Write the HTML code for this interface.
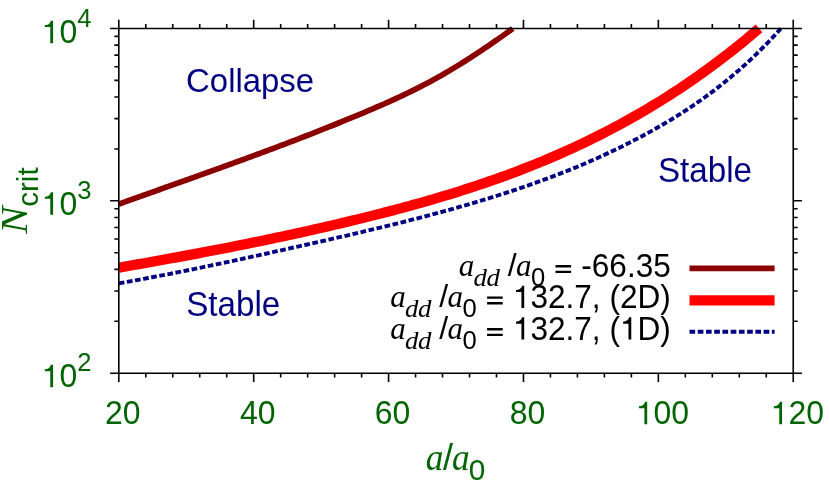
<!DOCTYPE html><html><head><meta charset="utf-8"><title>plot</title>
<style>html,body{margin:0;padding:0;background:#fff}svg{display:block;will-change:transform}text{font-family:"Liberation Sans",sans-serif;white-space:pre}.si{font-family:"Liberation Serif",serif;font-style:italic}.h{fill:none}</style></head><body>
<svg width="830" height="495" viewBox="0 0 830 495">
<defs><path id="one" d="M359 0H271V501H101V564C195 567 262 602 295 703H359Z"/><path id="eq" d="M45 108H540V184H45ZM45 288H540V364H45Z"/></defs>
<rect width="830" height="495" fill="#fff"/>
<polyline points="118.80,204.10 121.28,203.21 123.75,202.32 126.23,201.43 128.71,200.54 131.19,199.66 133.66,198.77 136.14,197.89 138.62,197.00 141.10,196.12 143.57,195.23 146.05,194.35 148.53,193.47 151.01,192.59 153.48,191.70 155.96,190.82 158.44,189.94 160.92,189.06 163.39,188.18 165.87,187.30 168.35,186.41 170.82,185.53 173.30,184.65 175.78,183.77 178.26,182.89 180.73,182.01 183.21,181.12 185.69,180.24 188.17,179.36 190.64,178.47 193.12,177.59 195.60,176.70 198.08,175.82 200.55,174.93 203.03,174.05 205.51,173.16 207.98,172.27 210.46,171.38 212.94,170.49 215.42,169.60 217.89,168.71 220.37,167.82 222.85,166.92 225.33,166.03 227.80,165.13 230.28,164.23 232.76,163.33 235.24,162.43 237.71,161.53 240.19,160.63 242.67,159.72 245.15,158.82 247.62,157.91 250.10,157.00 252.58,156.09 255.05,155.18 257.53,154.26 260.01,153.34 262.49,152.43 264.96,151.50 267.44,150.58 269.92,149.66 272.40,148.73 274.87,147.80 277.35,146.87 279.83,145.94 282.31,145.00 284.78,144.06 287.26,143.12 289.74,142.18 292.22,141.24 294.69,140.29 297.17,139.34 299.65,138.39 302.12,137.43 304.60,136.47 307.08,135.51 309.56,134.55 312.03,133.58 314.51,132.61 316.99,131.64 319.47,130.66 321.94,129.68 324.42,128.70 326.90,127.71 329.38,126.72 331.85,125.73 334.33,124.74 336.81,123.74 339.28,122.74 341.76,121.73 344.24,120.72 346.72,119.71 349.19,118.69 351.67,117.67 354.15,116.65 356.63,115.62 359.10,114.59 361.58,113.55 364.06,112.51 366.54,111.47 369.01,110.42 371.49,109.36 373.97,108.30 376.45,107.24 378.92,106.16 381.40,105.08 383.88,103.99 386.35,102.89 388.83,101.78 391.31,100.67 393.79,99.54 396.26,98.40 398.74,97.25 401.22,96.10 403.70,94.93 406.17,93.74 408.65,92.55 411.13,91.34 413.61,90.12 416.08,88.88 418.56,87.63 421.04,86.37 423.52,85.09 425.99,83.79 428.47,82.48 430.95,81.15 433.42,79.80 435.90,78.44 438.38,77.05 440.86,75.65 443.33,74.23 445.81,72.80 448.29,71.34 450.77,69.87 453.24,68.39 455.72,66.88 458.20,65.36 460.68,63.83 463.15,62.28 465.63,60.72 468.11,59.14 470.58,57.55 473.06,55.94 475.54,54.32 478.02,52.69 480.49,51.05 482.97,49.39 485.45,47.73 487.93,46.05 490.40,44.36 492.88,42.66 495.36,40.95 497.84,39.23 500.31,37.51 502.79,35.77 505.27,34.01 507.75,32.21 510.22,30.38 512.70,28.49" fill="none" stroke="#8b0000" stroke-width="5.7"/>
<polyline points="118.80,267.66 122.83,266.96 126.85,266.26 130.88,265.55 134.91,264.84 138.93,264.13 142.96,263.42 146.98,262.70 151.01,261.99 155.04,261.26 159.06,260.54 163.09,259.81 167.12,259.08 171.14,258.35 175.17,257.61 179.20,256.87 183.22,256.13 187.25,255.38 191.28,254.63 195.30,253.87 199.33,253.12 203.35,252.35 207.38,251.59 211.41,250.82 215.43,250.04 219.46,249.26 223.49,248.48 227.51,247.69 231.54,246.90 235.57,246.10 239.59,245.30 243.62,244.49 247.65,243.68 251.67,242.87 255.70,242.04 259.72,241.22 263.75,240.39 267.78,239.55 271.80,238.71 275.83,237.86 279.86,237.00 283.88,236.15 287.91,235.28 291.94,234.41 295.96,233.53 299.99,232.65 304.02,231.76 308.04,230.86 312.07,229.96 316.09,229.05 320.12,228.14 324.15,227.22 328.17,226.29 332.20,225.36 336.23,224.41 340.25,223.47 344.28,222.51 348.31,221.55 352.33,220.58 356.36,219.60 360.38,218.62 364.41,217.62 368.44,216.63 372.46,215.62 376.49,214.60 380.52,213.58 384.54,212.54 388.57,211.50 392.60,210.45 396.62,209.39 400.65,208.32 404.68,207.23 408.70,206.14 412.73,205.03 416.75,203.92 420.78,202.79 424.81,201.65 428.83,200.49 432.86,199.32 436.89,198.14 440.91,196.95 444.94,195.74 448.97,194.52 452.99,193.28 457.02,192.03 461.05,190.76 465.07,189.47 469.10,188.17 473.12,186.86 477.15,185.52 481.18,184.17 485.20,182.80 489.23,181.41 493.26,180.01 497.28,178.59 501.31,177.14 505.34,175.68 509.36,174.20 513.39,172.70 517.42,171.18 521.44,169.63 525.47,168.07 529.49,166.48 533.52,164.88 537.55,163.25 541.57,161.59 545.60,159.92 549.63,158.22 553.65,156.50 557.68,154.76 561.71,152.99 565.73,151.19 569.76,149.38 573.78,147.53 577.81,145.66 581.84,143.77 585.86,141.84 589.89,139.89 593.92,137.92 597.94,135.91 601.97,133.88 606.00,131.82 610.02,129.73 614.05,127.61 618.08,125.46 622.10,123.28 626.13,121.07 630.15,118.83 634.18,116.56 638.21,114.26 642.23,111.92 646.26,109.55 650.29,107.15 654.31,104.72 658.34,102.25 662.37,99.75 666.39,97.21 670.42,94.64 674.45,92.04 678.47,89.39 682.50,86.72 686.52,84.00 690.55,81.25 694.58,78.46 698.60,75.63 702.63,72.77 706.66,69.87 710.68,66.93 714.71,63.95 718.74,60.92 722.76,57.86 726.79,54.76 730.82,51.62 734.84,48.44 738.87,45.21 742.89,41.95 746.92,38.64 750.95,35.29 754.97,31.89 759.00,28.46" fill="none" stroke="#ff0000" stroke-width="10.2"/>
<polyline points="118.80,283.33 122.96,282.59 127.13,281.85 131.29,281.10 135.45,280.35 139.62,279.58 143.78,278.81 147.94,278.03 152.11,277.25 156.27,276.45 160.44,275.65 164.60,274.85 168.76,274.04 172.93,273.22 177.09,272.39 181.25,271.56 185.42,270.73 189.58,269.89 193.74,269.04 197.91,268.19 202.07,267.33 206.23,266.47 210.40,265.60 214.56,264.73 218.72,263.85 222.89,262.97 227.05,262.09 231.22,261.20 235.38,260.31 239.54,259.42 243.71,258.52 247.87,257.62 252.03,256.71 256.20,255.80 260.36,254.89 264.52,253.98 268.69,253.06 272.85,252.14 277.01,251.22 281.18,250.30 285.34,249.38 289.50,248.45 293.67,247.52 297.83,246.60 301.99,245.67 306.16,244.74 310.32,243.80 314.49,242.87 318.65,241.93 322.81,240.99 326.98,240.05 331.14,239.10 335.30,238.16 339.47,237.20 343.63,236.25 347.79,235.29 351.96,234.32 356.12,233.35 360.28,232.38 364.45,231.40 368.61,230.41 372.77,229.42 376.94,228.43 381.10,227.42 385.27,226.41 389.43,225.39 393.59,224.37 397.76,223.33 401.92,222.29 406.08,221.24 410.25,220.19 414.41,219.12 418.57,218.05 422.74,216.96 426.90,215.87 431.06,214.76 435.23,213.65 439.39,212.52 443.55,211.39 447.72,210.24 451.88,209.08 456.05,207.91 460.21,206.73 464.37,205.54 468.54,204.33 472.70,203.11 476.86,201.88 481.03,200.63 485.19,199.37 489.35,198.10 493.52,196.81 497.68,195.50 501.84,194.18 506.01,192.84 510.17,191.49 514.33,190.11 518.50,188.72 522.66,187.31 526.83,185.87 530.99,184.42 535.15,182.95 539.32,181.45 543.48,179.94 547.64,178.40 551.81,176.83 555.97,175.25 560.13,173.64 564.30,172.00 568.46,170.34 572.62,168.65 576.79,166.94 580.95,165.20 585.11,163.43 589.28,161.63 593.44,159.80 597.61,157.95 601.77,156.06 605.93,154.14 610.10,152.19 614.26,150.21 618.42,148.20 622.59,146.15 626.75,144.07 630.91,141.96 635.08,139.81 639.24,137.63 643.40,135.41 647.57,133.15 651.73,130.86 655.89,128.52 660.06,126.14 664.22,123.72 668.38,121.25 672.55,118.73 676.71,116.16 680.88,113.53 685.04,110.85 689.20,108.11 693.37,105.32 697.53,102.46 701.69,99.53 705.86,96.54 710.02,93.48 714.18,90.35 718.35,87.15 722.51,83.88 726.67,80.52 730.84,77.09 735.00,73.57 739.16,69.97 743.33,66.28 747.49,62.49 751.66,58.61 755.82,54.63 759.98,50.55 764.15,46.37 768.31,42.08 772.47,37.68 776.64,33.17 780.80,28.54" fill="none" stroke="#000080" stroke-width="3.9" stroke-dasharray="5.67 2.566"/>
<line x1="689.5" x2="774.6" y1="268.4" y2="268.4" stroke="#8b0000" stroke-width="5.7"/>
<line x1="689.5" x2="774.6" y1="300.4" y2="300.4" stroke="#ff0000" stroke-width="10.2"/>
<line x1="689.5" x2="774.6" y1="331.8" y2="331.8" stroke="#000080" stroke-width="3.9" stroke-dasharray="5.67 2.566"/>
<path d="M118.8,28.45H793.24V373.2H118.8ZM118.80,28.45v-8.7M118.80,373.2v8.7M145.78,28.45v-4.4M145.78,373.2v4.4M172.76,28.45v-4.4M172.76,373.2v4.4M199.73,28.45v-4.4M199.73,373.2v4.4M226.71,28.45v-4.4M226.71,373.2v4.4M253.69,28.45v-8.7M253.69,373.2v8.7M280.67,28.45v-4.4M280.67,373.2v4.4M307.64,28.45v-4.4M307.64,373.2v4.4M334.62,28.45v-4.4M334.62,373.2v4.4M361.60,28.45v-4.4M361.60,373.2v4.4M388.58,28.45v-8.7M388.58,373.2v8.7M415.55,28.45v-4.4M415.55,373.2v4.4M442.53,28.45v-4.4M442.53,373.2v4.4M469.51,28.45v-4.4M469.51,373.2v4.4M496.49,28.45v-4.4M496.49,373.2v4.4M523.46,28.45v-8.7M523.46,373.2v8.7M550.44,28.45v-4.4M550.44,373.2v4.4M577.42,28.45v-4.4M577.42,373.2v4.4M604.40,28.45v-4.4M604.40,373.2v4.4M631.37,28.45v-4.4M631.37,373.2v4.4M658.35,28.45v-8.7M658.35,373.2v8.7M685.33,28.45v-4.4M685.33,373.2v4.4M712.31,28.45v-4.4M712.31,373.2v4.4M739.28,28.45v-4.4M739.28,373.2v4.4M766.26,28.45v-4.4M766.26,373.2v4.4M793.24,28.45v-8.7M793.24,373.2v8.7M118.8,373.20h-8.7M793.24,373.20h8.7M118.8,321.31h-4.4M793.24,321.31h4.4M118.8,290.96h-4.4M793.24,290.96h4.4M118.8,269.42h-4.4M793.24,269.42h4.4M118.8,252.72h-4.4M793.24,252.72h4.4M118.8,239.07h-4.4M793.24,239.07h4.4M118.8,227.53h-4.4M793.24,227.53h4.4M118.8,217.53h-4.4M793.24,217.53h4.4M118.8,208.71h-4.4M793.24,208.71h4.4M118.8,200.82h-8.7M793.24,200.82h8.7M118.8,148.93h-4.4M793.24,148.93h4.4M118.8,118.58h-4.4M793.24,118.58h4.4M118.8,97.04h-4.4M793.24,97.04h4.4M118.8,80.34h-4.4M793.24,80.34h4.4M118.8,66.69h-4.4M793.24,66.69h4.4M118.8,55.15h-4.4M793.24,55.15h4.4M118.8,45.15h-4.4M793.24,45.15h4.4M118.8,36.34h-4.4M793.24,36.34h4.4M118.8,28.45h-8.7M793.24,28.45h8.7" fill="none" stroke="#000" stroke-width="1.6"/>
<text transform="translate(41.60,43.15) scale(1,1.025)" font-size="32" fill="#006400"><tspan class="h">1</tspan>0</text><use href="#one" fill="#006400" transform="translate(41.60,43.15) scale(0.03200,-0.03200)"/>
<text transform="translate(77.19,27.15) scale(1,1.025)" font-size="25.6" fill="#006400">4</text>
<text transform="translate(41.60,214.72) scale(1,1.025)" font-size="32" fill="#006400"><tspan class="h">1</tspan>0</text><use href="#one" fill="#006400" transform="translate(41.60,214.72) scale(0.03200,-0.03200)"/>
<text transform="translate(77.19,198.72) scale(1,1.025)" font-size="25.6" fill="#006400">3</text>
<text transform="translate(41.60,387.20) scale(1,1.025)" font-size="32" fill="#006400"><tspan class="h">1</tspan>0</text><use href="#one" fill="#006400" transform="translate(41.60,387.20) scale(0.03200,-0.03200)"/>
<text transform="translate(77.19,371.20) scale(1,1.025)" font-size="25.6" fill="#006400">2</text>
<text transform="translate(105.05,424.30) scale(1,1.025)" font-size="32" fill="#006400">20</text>
<text transform="translate(239.94,424.30) scale(1,1.025)" font-size="32" fill="#006400">40</text>
<text transform="translate(374.83,424.30) scale(1,1.025)" font-size="32" fill="#006400">60</text>
<text transform="translate(509.72,424.30) scale(1,1.025)" font-size="32" fill="#006400">80</text>
<text transform="translate(635.71,424.30) scale(1,1.025)" font-size="32" fill="#006400"><tspan class="h">1</tspan>00</text><use href="#one" fill="#006400" transform="translate(635.71,424.30) scale(0.03200,-0.03200)"/>
<text transform="translate(770.59,424.30) scale(1,1.025)" font-size="32" fill="#006400"><tspan class="h">1</tspan>20</text><use href="#one" fill="#006400" transform="translate(770.59,424.30) scale(0.03200,-0.03200)"/>
<text class="si" transform="translate(425.74,469.70) scale(0.92,1)" font-size="38.4" fill="#006400">a</text>
<text x="442.9" y="469.7" font-size="36" fill="#006400">/</text>
<text class="si" transform="translate(451.94,469.70) scale(0.92,1)" font-size="38.4" fill="#006400">a</text>
<text transform="translate(468.79,480.40) scale(1,1.0)" font-size="29.8" fill="#006400">0</text>
<text class="si" transform="translate(26.8,233.8) rotate(-90) scale(1.07,1)" font-size="38.4" fill="#006400">N</text>
<text transform="translate(37.6,206.8) rotate(-90)" font-size="29.6" fill="#006400">crit</text>
<text transform="translate(186.1,91.6) scale(1,1.035)" font-size="32.9" fill="#000080">Collapse</text>
<text transform="translate(657.9,181.6) scale(1,1.035)" font-size="33.2" fill="#000080">Stable</text>
<text transform="translate(186.2,315.9) scale(1,1.035)" font-size="33.2" fill="#000080">Stable</text>
<text class="si" transform="translate(458.87,276.00) scale(0.97,1)" font-size="32" fill="#000">a</text>
<text class="si" transform="translate(473.49,285.60) scale(1.05,1)" font-size="25.6" fill="#000">d</text>
<text class="si" transform="translate(486.49,285.60) scale(1.05,1)" font-size="25.6" fill="#000">d</text>
<text x="507.80" y="276.0" font-size="32" fill="#000">/</text>
<text class="si" transform="translate(516.07,276.00) scale(0.97,1)" font-size="32" fill="#000">a</text>
<text transform="translate(531.00,285.80) scale(1,1.02)" font-size="25.6" fill="#000">0</text>
<text transform="translate(545.31,276.50) scale(1,1.025)" font-size="31.57" fill="#000"> <tspan class="h">=</tspan> -66.35</text><use href="#eq" fill="#000" transform="translate(554.08,276.50) scale(0.03157,-0.03157)"/>
<text class="si" transform="translate(390.27,307.40) scale(0.97,1)" font-size="32" fill="#000">a</text>
<text class="si" transform="translate(404.89,317.00) scale(1.05,1)" font-size="25.6" fill="#000">d</text>
<text class="si" transform="translate(417.89,317.00) scale(1.05,1)" font-size="25.6" fill="#000">d</text>
<text x="439.20" y="307.4" font-size="32" fill="#000">/</text>
<text class="si" transform="translate(447.47,307.40) scale(0.97,1)" font-size="32" fill="#000">a</text>
<text transform="translate(462.40,317.20) scale(1,1.02)" font-size="25.6" fill="#000">0</text>
<text transform="translate(476.89,307.90) scale(1,1.025)" font-size="31.57" fill="#000"> <tspan class="h">=</tspan> <tspan class="h">1</tspan>32.7, (2D)</text><use href="#eq" fill="#000" transform="translate(485.67,307.90) scale(0.03157,-0.03157)"/><use href="#one" fill="#000" transform="translate(512.87,307.90) scale(0.03157,-0.03157)"/>
<text class="si" transform="translate(390.27,339.00) scale(0.97,1)" font-size="32" fill="#000">a</text>
<text class="si" transform="translate(404.89,348.60) scale(1.05,1)" font-size="25.6" fill="#000">d</text>
<text class="si" transform="translate(417.89,348.60) scale(1.05,1)" font-size="25.6" fill="#000">d</text>
<text x="439.20" y="339.0" font-size="32" fill="#000">/</text>
<text class="si" transform="translate(447.47,339.00) scale(0.97,1)" font-size="32" fill="#000">a</text>
<text transform="translate(462.40,348.80) scale(1,1.02)" font-size="25.6" fill="#000">0</text>
<text transform="translate(476.89,339.50) scale(1,1.025)" font-size="31.57" fill="#000"> <tspan class="h">=</tspan> <tspan class="h">1</tspan>32.7, (<tspan class="h">1</tspan>D)</text><use href="#eq" fill="#000" transform="translate(485.67,339.50) scale(0.03157,-0.03157)"/><use href="#one" fill="#000" transform="translate(512.87,339.50) scale(0.03157,-0.03157)"/><use href="#one" fill="#000" transform="translate(619.93,339.50) scale(0.03157,-0.03157)"/>
</svg></body></html>
